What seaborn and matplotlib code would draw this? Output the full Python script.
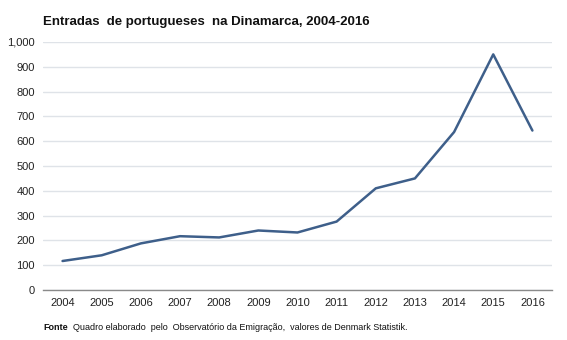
import matplotlib
matplotlib.use("Agg")
import matplotlib.pyplot as plt
import seaborn as sns
import pandas as pd
from matplotlib.ticker import FuncFormatter

years = ["2004", "2005", "2006", "2007", "2008", "2009", "2010",
         "2011", "2012", "2013", "2014", "2015", "2016"]
entradas = [117, 140, 188, 217, 212, 240, 232, 276, 410, 450, 637, 950, 643]
title = "Entradas  de portugueses  na Dinamarca, 2004-2016"
source_bold = "Fonte"
source_text = "Quadro elaborado  pelo  Observatório da Emigração,  valores de Denmark Statistik."

sns.set_style("white")
plt.rcParams['font.family'] = ['Liberation Sans', 'DejaVu Sans']

df = pd.DataFrame({"ano": years, "entradas": entradas})

fig = plt.figure(figsize=(5.67, 3.4), dpi=100)
ax = fig.add_axes([0.0758, 0.147, 0.8977, 0.7295])

sns.lineplot(data=df, x="ano", y="entradas", ax=ax, color="#3e5f8a",
             linewidth=1.8, sort=False)

ax.set_xlim(-0.5, len(years) - 0.5)
ax.set_ylim(0, 1000)
ax.set_yticks(range(0, 1001, 100))
ax.yaxis.set_major_formatter(FuncFormatter(lambda v, p: f"{int(v):,}"))
ax.grid(axis="y", color="#dfe3e8", linewidth=1.0)
ax.grid(axis="x", visible=False)
for s in ["top", "right", "left"]:
    ax.spines[s].set_visible(False)
ax.spines["bottom"].set_color("#8a8a8a")
ax.spines["bottom"].set_linewidth(1.0)
ax.tick_params(axis="both", length=0, labelsize=8, colors="#222222", pad=6)
ax.tick_params(axis="y", pad=6)
ax.set_xlabel("")
ax.set_ylabel("")

fig.text(0.0758, 0.935, title, fontsize=9.5, fontweight="bold",
         ha="left", va="center", color="#111111")
fig.text(0.0758, 0.038, source_bold, fontsize=6.5, fontweight="bold",
         ha="left", va="center", color="#111111")
fig.text(0.128, 0.038, source_text, fontsize=6.5,
         ha="left", va="center", color="#111111")

fig.savefig("out.png", dpi=100)
